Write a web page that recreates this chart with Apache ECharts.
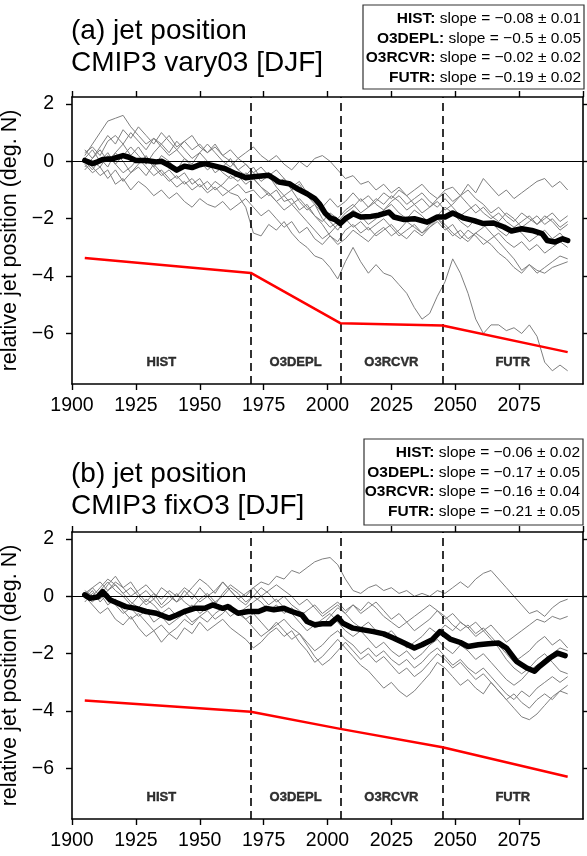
<!DOCTYPE html>
<html>
<head>
<meta charset="utf-8">
<script src="https://cdn.jsdelivr.net/npm/echarts@6/dist/echarts.min.js"></script>
<style>
  html, body { margin: 0; padding: 0; background: #fff; }
  #chart { width: 587px; height: 856px; }
</style>
</head>
<body>
<div id="chart"></div>
<script>
// Southern-hemisphere DJF jet position, relative to 1900, for CMIP3 models
// with time-varying ozone (a) and fixed ozone (b).

const FONT = 'Liberation Sans, Arial, Helvetica, sans-serif';

// Years at which individual model runs are sampled
const runYears = [
  1905, 1908, 1911, 1914, 1917, 1920, 1923, 1926,
  1929, 1932, 1935, 1938, 1941, 1944, 1947, 1950,
  1953, 1956, 1959, 1962, 1965, 1968, 1971, 1974,
  1977, 1980, 1983, 1986, 1989, 1992, 1995, 1998,
  2001, 2004, 2007, 2010, 2013, 2016, 2019, 2022,
  2025, 2028, 2031, 2034, 2037, 2040, 2043, 2046,
  2049, 2052, 2055, 2058, 2061, 2064, 2067, 2070,
  2073, 2076, 2079, 2082, 2085, 2088, 2091, 2094
];

// (a) individual models, varying ozone
const varyRuns = [
  [0.2,0.6,1.0,1.4,1.5,1.6,1.2,0.9, 0.6,0.8,0.5,0.2,0.4,0.1,-0.2,0.0, -0.3,-0.1,-0.4,-0.6,-0.5,-0.8,-0.6,-0.9, -1.2,-1.0,-1.4,-1.3,-1.7,-1.5,-1.9,-2.1,
   -1.8,-2.0,-1.7,-1.5,-1.8,-1.6,-1.3,-1.5, -1.2,-1.4,-1.7,-1.5,-1.8,-1.6,-1.3,-1.1, -1.4,-1.2,-1.5,-1.8,-1.6,-1.9,-2.1,-1.8, -2.0,-2.3,-2.1,-1.9,-2.2,-2.0,-2.3,-2.1],
  [0.0,-0.3,0.1,-0.2,0.3,0.0,-0.4,-0.1, 0.2,-0.2,-0.5,-0.3,-0.6,-0.4,-0.8,-0.6, -1.0,-0.7,-0.9,-1.1,-1.2,-1.6,-2.5,-2.6, -2.2,-2.4,-2.1,-2.5,-2.8,-3.0,-3.3,-3.4,
   -3.7,-4.1,-3.5,-3.0,-3.5,-3.9,-3.6,-3.9, -4.0,-4.3,-4.6,-5.1,-5.5,-5.3,-4.7,-4.2, -3.4,-3.9,-4.6,-5.5,-6.0,-5.7,-5.7,-5.9, -5.8,-6.0,-5.7,-6.1,-7.0,-7.3,-7.1,-7.3],
  [0.1,-0.2,-0.5,-0.3,-0.8,-0.6,-1.0,-0.7, -0.9,-1.2,-1.0,-1.3,-1.1,-1.4,-1.6,-1.3, -1.5,-1.6,-1.4,-1.7,-1.5,-1.3,-1.6,-1.9, -1.7,-2.0,-2.3,-2.1,-2.5,-2.3,-2.7,-2.9,
   -2.6,-2.8,-2.4,-2.2,-2.5,-2.3,-2.6,-2.4, -2.2,-2.5,-2.7,-2.4,-2.6,-2.3,-2.1,-2.4, -2.2,-2.6,-2.8,-2.5,-2.7,-2.9,-3.2,-3.4, -3.7,-3.9,-3.6,-3.8,-3.9,-3.7,-3.6,-3.5],
  [0.3,0.5,0.2,0.7,0.9,0.6,1.0,0.7, 0.4,0.8,0.6,0.9,0.5,0.7,0.4,0.6, 0.3,0.5,0.2,0.4,0.1,0.3,0.5,0.2, 0.0,0.2,-0.1,-0.3,0.0,-0.2,0.1,0.2,
   0.0,-0.3,-0.6,-0.5,-0.8,-0.7,-1.0,-0.8, -1.1,-0.9,-1.2,-1.0,-0.8,-1.1,-1.3,-1.0, -0.9,-1.2,-0.8,-1.1,-0.6,-0.9,-1.2,-1.0, -1.3,-1.1,-0.9,-0.7,-0.6,-0.9,-0.7,-1.0],
  [-0.2,0.1,0.4,0.0,0.3,0.6,0.2,0.5, 0.1,-0.2,0.2,0.0,-0.3,0.1,-0.1,0.3, 0.0,-0.4,-0.2,0.1,-0.3,-0.5,-0.2,-0.6, -0.4,-0.8,-0.6,-1.0,-0.8,-1.2,-1.5,-1.8,
   -2.1,-2.4,-2.0,-1.7,-1.9,-2.2,-2.0,-1.7, -1.5,-1.8,-2.0,-1.7,-1.9,-2.2,-1.9,-1.6, -1.8,-2.1,-2.3,-2.0,-2.2,-2.5,-2.8,-3.1, -3.4,-3.8,-3.6,-3.9,-3.7,-3.5,-3.3,-3.4],
  [0.4,0.1,0.5,0.9,0.6,1.1,0.8,1.2, 0.9,0.6,1.0,0.7,0.4,0.7,0.9,0.5, 0.3,0.6,0.2,0.0,-0.3,-0.1,-0.4,-0.2, -0.5,-0.9,-1.2,-1.0,-1.4,-1.7,-1.5,-2.0,
   -2.3,-2.1,-1.8,-1.6,-1.3,-1.6,-1.4,-1.1, -1.3,-1.0,-1.2,-1.5,-1.3,-1.6,-1.4,-1.7, -1.5,-1.2,-1.0,-1.3,-1.5,-1.8,-1.6,-1.9, -2.1,-1.8,-2.0,-2.2,-1.9,-2.1,-2.4,-2.2],
  [-0.1,-0.4,-0.2,-0.6,-0.3,-0.7,-0.4,-0.2, -0.5,-0.1,-0.4,-0.7,-0.5,-0.8,-0.6,-0.9, -0.7,-1.0,-0.8,-0.5,-0.7,-0.4,-0.6,-0.9, -1.1,-1.4,-1.2,-1.5,-1.3,-1.6,-1.9,-2.2,
   -2.6,-2.9,-2.7,-2.4,-2.6,-2.8,-2.5,-2.3, -2.6,-2.4,-2.1,-2.3,-2.5,-2.2,-2.0,-2.3, -2.6,-2.4,-2.7,-2.5,-2.3,-2.1,-2.4,-2.6, -2.3,-2.5,-2.8,-2.6,-2.4,-2.7,-2.5,-2.8],
  [0.1,0.4,0.0,0.3,-0.1,0.2,0.5,0.2, -0.1,0.3,0.6,0.3,0.7,0.4,0.1,0.3, 0.6,0.3,0.0,-0.2,0.1,-0.1,-0.4,-0.7, -0.5,-0.3,-0.6,-0.9,-0.7,-1.1,-1.4,-1.6,
   -1.3,-1.6,-1.4,-1.1,-1.4,-1.2,-1.5,-1.7, -1.4,-1.2,-1.5,-1.3,-1.1,-1.4,-1.6,-1.3, -1.6,-1.9,-1.7,-1.5,-1.8,-2.0,-1.8,-2.1, -2.3,-2.1,-1.9,-2.2,-2.0,-1.8,-2.1,-1.9],
  [-0.3,0.0,-0.2,0.2,-0.1,-0.4,-0.2,0.1, -0.2,-0.5,-0.3,-0.6,-0.9,-0.7,-1.0,-0.8, -1.1,-0.9,-1.2,-1.0,-0.8,-1.1,-1.0,-1.3, -1.1,-1.4,-1.7,-1.5,-1.8,-2.1,-2.4,-2.7,
   -2.5,-2.2,-2.0,-2.3,-2.1,-2.4,-2.2,-2.0, -2.3,-2.6,-2.4,-2.2,-2.5,-2.3,-2.0,-2.2, -2.5,-2.7,-2.4,-2.6,-2.9,-2.7,-2.5,-2.8, -3.0,-2.8,-3.1,-2.9,-3.2,-3.0,-2.8,-3.0]
];

// (b) individual models, fixed ozone
const fixRuns = [
  [0.1,0.3,0.0,0.4,0.7,0.3,0.5,0.1, -0.2,0.1,-0.3,0.0,-0.2,0.2,-0.1,0.3, 0.0,-0.3,0.1,0.4,0.2,0.0,0.3,0.5, 0.4,0.7,0.6,0.9,0.8,1.0,1.2,1.3,
   1.35,1.1,0.6,0.2,0.1,0.3,0.4,0.2, 0.3,0.1,0.2,0.0,0.1,0.0,0.2,0.1, 0.3,0.5,0.3,0.6,0.8,0.9,0.6,0.3, 0.0,-0.3,-0.6,-0.5,-0.7,-0.4,-0.2,-0.1],
  [0.0,-0.3,-0.6,-0.4,-0.8,-1.0,-0.7,-1.1, -1.4,-1.2,-1.6,-1.3,-1.5,-1.1,-1.3,-0.9, -1.2,-1.0,-0.8,-1.1,-1.3,-1.5,-1.8,-1.6, -1.3,-1.1,-1.4,-1.2,-1.6,-1.9,-2.3,-2.1,
   -1.8,-1.5,-1.8,-2.1,-2.4,-2.6,-2.9,-3.2, -3.0,-3.3,-3.5,-3.3,-3.0,-2.7,-2.3,-2.5, -2.8,-3.1,-2.9,-3.2,-3.4,-3.0,-3.3,-3.6, -3.9,-4.2,-4.3,-4.1,-3.8,-3.5,-3.3,-3.1],
  [0.1,-0.1,0.2,0.5,0.2,0.0,-0.3,0.0, 0.2,-0.1,0.3,0.1,-0.2,0.0,0.3,0.6, 0.4,0.1,0.5,0.2,-0.1,-0.3,0.0,-0.2, -0.5,-0.3,-0.6,-0.4,-0.7,-0.5,-0.3,-0.6,
   -0.4,-0.2,-0.5,-0.3,-0.6,-0.4,-0.2,-0.5, -0.8,-0.6,-0.9,-0.7,-0.5,-0.3,-0.5,-0.8, -0.6,-0.9,-1.1,-0.9,-1.2,-1.0,-1.3,-1.6, -1.4,-1.2,-1.0,-0.8,-0.9,-0.7,-0.8,-0.7],
  [-0.1,0.2,-0.2,0.1,-0.3,-0.6,-0.4,-0.7, -0.5,-0.9,-0.7,-1.0,-0.8,-0.6,-0.9,-0.7, -0.5,-0.8,-0.6,-0.3,-0.6,-0.8,-0.6,-0.9, -1.2,-1.0,-0.8,-1.1,-1.3,-1.6,-1.9,-1.7,
   -1.4,-1.2,-1.5,-1.7,-2.0,-1.8,-2.1,-1.9, -2.2,-2.4,-2.2,-2.5,-2.3,-2.0,-1.8,-2.1, -2.4,-2.2,-2.5,-2.7,-2.5,-2.8,-3.1,-3.4, -3.6,-3.3,-3.5,-3.2,-3.0,-2.8,-3.0,-2.8],
  [0.2,0.0,0.3,0.6,0.4,0.1,0.3,0.0, -0.3,-0.1,-0.4,-0.2,0.1,-0.2,-0.4,-0.1, 0.1,-0.2,0.0,0.3,0.1,-0.2,0.0,0.3, 0.1,-0.2,0.0,-0.3,-0.5,-0.8,-1.1,-1.0,
   -0.7,-0.4,-0.6,-0.3,-0.5,-0.2,-0.4,-0.7, -0.9,-1.1,-0.9,-1.2,-1.0,-0.8,-0.5,-0.7, -1.0,-1.2,-1.0,-1.3,-1.1,-1.4,-1.7,-2.0, -2.3,-2.1,-1.9,-1.6,-1.4,-1.7,-1.5,-1.8],
  [0.0,-0.2,0.1,-0.3,-0.1,-0.5,-0.8,-0.6, -0.9,-1.2,-1.0,-1.3,-1.1,-0.8,-1.0,-0.7, -0.9,-0.6,-0.4,-0.7,-0.5,-0.8,-1.1,-1.4, -1.2,-0.9,-1.2,-1.5,-1.3,-1.7,-2.1,-2.4,
   -2.2,-1.9,-1.6,-1.9,-2.2,-2.0,-2.3,-2.1, -2.4,-2.7,-2.5,-2.8,-2.6,-2.3,-2.0,-2.2, -2.5,-2.3,-2.6,-2.9,-2.7,-3.0,-3.3,-3.6, -3.4,-3.7,-3.9,-3.6,-3.4,-3.6,-3.3,-3.4],
  [0.0,0.3,0.5,0.2,0.4,0.1,-0.2,-0.4, -0.1,-0.3,-0.6,-0.4,-0.7,-0.5,-0.3,-0.6, -0.4,-0.2,-0.5,-0.3,-0.6,-0.4,-0.2,0.0, -0.3,-0.1,-0.4,-0.6,-0.9,-1.2,-1.0,-0.8,
   -0.6,-0.9,-1.2,-1.4,-1.2,-1.5,-1.8,-1.6, -1.9,-2.1,-1.9,-2.2,-2.0,-1.7,-1.5,-1.8, -2.0,-1.7,-1.9,-2.2,-2.0,-2.3,-2.6,-2.9, -3.1,-2.9,-2.6,-2.4,-2.2,-2.0,-1.8,-1.9],
  [-0.2,0.1,-0.1,0.2,0.5,0.3,0.0,0.2, 0.4,0.1,-0.1,0.2,0.0,0.3,0.1,-0.2, 0.0,0.2,0.5,0.2,-0.1,0.1,0.3,0.0, 0.2,0.4,0.2,0.0,-0.3,-0.1,-0.4,-0.7,
   -0.5,-0.3,-0.6,-0.9,-1.1,-0.9,-1.2,-1.4, -1.2,-1.5,-1.8,-1.6,-1.4,-1.1,-1.3,-1.0, -1.2,-0.9,-1.1,-1.4,-1.2,-1.5,-1.8,-2.2, -2.5,-2.7,-2.5,-2.2,-2.0,-2.3,-2.6,-2.7]
];

// Multi-model means
const varyMeanYears = [1905,1908,1910,1912,1916,1920,1922,1925,1929,1933,1935,1938,1941,1944,1947,1950,1952,1956,1960,1964,
  1968,1970,1973,1977,1979,1981,1985,1988,1992,1995,1997,1999,2001,2003,2005,2007,2010,2013,2017,2020,
  2024,2026,2030,2034,2039,2043,2046,2049,2053,2057,2061,2065,2069,2072,2076,2080,2084,2086,2089,2092,2094];
const varyMean = [0.03,-0.08,-0.02,0.06,0.09,0.2,0.15,0.03,0.03,-0.02,0,-0.14,-0.31,-0.17,-0.22,-0.12,-0.08,-0.17,-0.26,-0.43,
  -0.57,-0.55,-0.52,-0.49,-0.6,-0.72,-0.78,-0.95,-1.13,-1.3,-1.5,-1.8,-1.97,-2.03,-2.17,-2.0,-1.83,-1.94,-1.92,-1.88,
  -1.77,-1.94,-2.03,-2.0,-2.12,-1.94,-1.94,-1.8,-1.97,-2.06,-2.17,-2.15,-2.29,-2.43,-2.35,-2.41,-2.52,-2.76,-2.81,-2.7,-2.76];

const fixMeanYears = [1905,1907,1910,1912,1915,1918,1921,1925,1929,1933,1938,1941,1944,1948,1952,1955,1959,1961,1965,1969,
  1973,1976,1979,1983,1986,1990,1992,1995,1998,2001,2004,2006,2010,2014,2018,2022,2026,2030,2034,2037,
  2041,2044,2048,2052,2055,2059,2063,2067,2070,2074,2078,2081,2083,2087,2090,2093];
const fixMean = [0.05,-0.07,-0.03,0.16,-0.13,-0.24,-0.36,-0.42,-0.53,-0.59,-0.76,-0.65,-0.53,-0.42,-0.42,-0.3,-0.42,-0.36,-0.59,-0.53,
  -0.53,-0.42,-0.47,-0.42,-0.53,-0.65,-0.88,-0.99,-0.96,-0.96,-0.73,-0.94,-1.11,-1.17,-1.23,-1.31,-1.46,-1.63,-1.8,-1.69,
  -1.51,-1.23,-1.49,-1.61,-1.75,-1.69,-1.65,-1.63,-1.8,-2.27,-2.5,-2.61,-2.44,-2.15,-1.98,-2.07];

// Piecewise linear trends (offset below the data)
const trendYears = [1905, 1970, 2005, 2045, 2094];
const varyTrend = [-3.37, -3.89, -5.64, -5.72, -6.65];
const fixTrend = [-3.63, -4.02, -4.62, -5.26, -6.29];

// Periods and their trend slopes (deg. per decade)
const periodNames = ['HIST', 'O3DEPL', 'O3RCVR', 'FUTR'];
const periodEdges = [1900, 1970, 2005, 2045, 2100];
const varySlope = [-0.08, -0.5, -0.02, -0.19];
const varySlopeErr = [0.01, 0.05, 0.02, 0.02];
const fixSlope = [-0.06, -0.17, -0.16, -0.21];
const fixSlopeErr = [0.02, 0.05, 0.04, 0.05];

// Axis ticks
const yTicks = [-6, -4, -2, 0, 2];
const X_MIN = 1900, X_MAX = 2100, X_STEP = 25;
const Y_MIN = -7.76, Y_MAX = 2.24;

const minus = v => (v < 0 ? '\u2212' + Math.abs(v) : String(v));
const pairs = (xs, ys) => xs.map((x, i) => [x, ys[i]]);

const axisLineStyle = { color: '#000', width: 1.6 };
const tickStyle = { length: 6, lineStyle: { color: '#000', width: 1.4 } };

function xAxesFor(k) {
  const base = {
    gridIndex: k, type: 'value', min: X_MIN, max: X_MAX, interval: X_STEP,
    axisLine: { onZero: false, lineStyle: axisLineStyle },
    axisTick: tickStyle, splitLine: { show: false }
  };
  return [
    Object.assign({}, base, {
      position: 'bottom',
      axisLabel: { showMaxLabel: false, formatter: v => String(v), color: '#000',
                   fontSize: 19.5, fontFamily: FONT, margin: 12 }
    }),
    Object.assign({}, base, { position: 'top', axisLabel: { show: false } })
  ];
}

function yAxesFor(k) {
  const base = {
    gridIndex: k, type: 'value', min: Y_MIN, max: Y_MAX,
    axisLine: { onZero: false, lineStyle: axisLineStyle },
    axisTick: Object.assign({ customValues: yTicks }, tickStyle),
    splitLine: { show: false }
  };
  return [
    Object.assign({}, base, {
      position: 'left',
      name: 'relative jet position (deg. N)',
      nameLocation: 'middle', nameRotate: 90, nameGap: 41,
      nameTextStyle: { fontSize: 21.5, color: '#000', fontFamily: FONT },
      axisLabel: { customValues: yTicks, formatter: minus, color: '#000',
                   fontSize: 19.5, fontFamily: FONT, margin: 18 }
    }),
    Object.assign({}, base, { position: 'right', axisLabel: { show: false } })
  ];
}

function panelSeries(k, runs, meanYears, mean, trend) {
  const ax = { xAxisIndex: 2 * k, yAxisIndex: 2 * k };
  const out = runs.map(r => Object.assign({
    type: 'line', data: pairs(runYears, r), symbol: 'none', silent: true, z: 2,
    lineStyle: { color: '#7f7f7f', width: 1 }
  }, ax));
  out.push(Object.assign({
    type: 'line', data: pairs(meanYears, mean), symbol: 'none', silent: true, z: 4,
    lineStyle: { color: '#000', width: 5.5, cap: 'round', join: 'round' }
  }, ax));
  out.push(Object.assign({
    type: 'line', data: pairs(trendYears, trend), symbol: 'none', silent: true, z: 5,
    lineStyle: { color: '#ff0000', width: 2.5 },
    markLine: {
      silent: true, symbol: ['none', 'none'], label: { show: false },
      lineStyle: { color: '#000', width: 1.6, type: [8, 5] },
      data: [{ yAxis: 0, lineStyle: { type: 'solid', width: 1, color: '#000' } }]
        .concat(periodEdges.slice(1, -1).map(x => ({ xAxis: x })))
    }
  }, ax));
  out.push(Object.assign({
    type: 'scatter', silent: true, symbolSize: 1, z: 6,
    itemStyle: { color: '#fff' },
    data: periodNames.map((n, i) => ({
      name: n, value: [(periodEdges[i] + periodEdges[i + 1]) / 2, -7.0]
    })),
    label: { show: true, position: 'inside', formatter: '{b}', color: '#000',
             fontWeight: 'bold', fontSize: 13, fontFamily: FONT,
             textBorderColor: '#000', textBorderWidth: 0.4 }
  }, ax));
  return out;
}

function slopeBox(x, y, w, h, slopes, errs) {
  const children = [{
    type: 'rect', shape: { x: 0, y: 0, width: w, height: h },
    style: { fill: '#fff', stroke: '#333', lineWidth: 1.2 }
  }];
  periodNames.forEach((n, i) => {
    children.push({
      type: 'text', x: w - 3, y: 14 + 19.5 * i,
      style: {
        text: '{b|' + n + ':} slope = ' + minus(slopes[i]) + ' \u00b1 ' + errs[i],
        align: 'right', verticalAlign: 'middle',
        fontSize: 15.5, fontFamily: FONT, fill: '#000',
        rich: { b: { fontWeight: 'bold', fontSize: 15.5, fontFamily: FONT, fill: '#000' } }
      }
    });
  });
  return { type: 'group', x: x, y: y, z: 10, children: children };
}

const titleStyle = { fontSize: 28, fontWeight: 'normal', lineHeight: 32, color: '#000', fontFamily: FONT };

const option = {
  animation: false,
  backgroundColor: '#fff',
  title: [
    { text: '(a) jet position\nCMIP3 vary03 [DJF]', left: 71, top: 15, padding: 0, textStyle: titleStyle },
    { text: '(b) jet position\nCMIP3 fixO3 [DJF]', left: 71, top: 458, padding: 0, textStyle: titleStyle }
  ],
  grid: [
    { left: 72, top: 97, width: 511, height: 287, outerBoundsMode: 'none' },
    { left: 72, top: 532, width: 511, height: 287, outerBoundsMode: 'none' }
  ],
  xAxis: xAxesFor(0).concat(xAxesFor(1)),
  yAxis: yAxesFor(0).concat(yAxesFor(1)),
  series: panelSeries(0, varyRuns, varyMeanYears, varyMean, varyTrend)
    .concat(panelSeries(1, fixRuns, fixMeanYears, fixMean, fixTrend)),
  graphic: [
    slopeBox(363, 5, 221, 84, varySlope, varySlopeErr),
    slopeBox(364, 439, 219, 86, fixSlope, fixSlopeErr)
  ]
};

const chart = echarts.init(document.getElementById('chart'), null, { renderer: 'canvas' });
chart.setOption(option);
</script>
</body>
</html>
